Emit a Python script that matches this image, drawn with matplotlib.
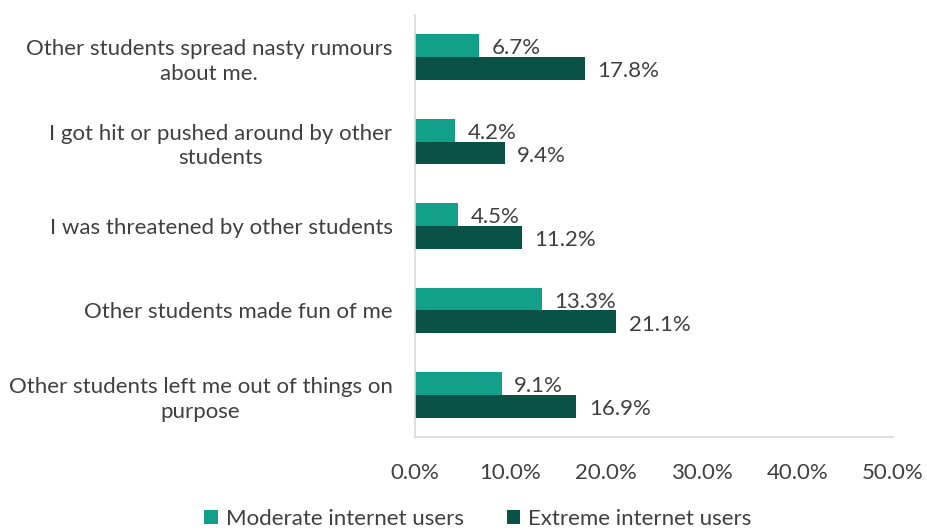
import matplotlib
matplotlib.use("Agg")
import matplotlib.pyplot as plt
import numpy as np

plt.rcParams['font.family'] = ['Lato', 'DejaVu Sans']

categories = [
    "Other students spread nasty rumours\nabout me.",
    "I got hit or pushed around by other\nstudents",
    "I was threatened by other students",
    "Other students made fun of me",
    "Other students left me out of things on\npurpose",
]
moderate = [6.7, 4.2, 4.5, 13.3, 9.1]
extreme = [17.8, 9.4, 11.2, 21.1, 16.9]
series_names = ["Moderate internet users", "Extreme internet users"]
xticks = [0, 10, 20, 30, 40, 50]
xtick_labels = ["0.0%", "10.0%", "20.0%", "30.0%", "40.0%", "50.0%"]

c_mod = "#13A08A"
c_ext = "#0A5246"
txt = "#404040"
fs = 16

fig = plt.figure(figsize=(9.28, 5.31), dpi=100)
ax = fig.add_axes([0.447, 0.177, 0.515, 0.795])

y = np.arange(len(categories))
h = 0.27
b1 = ax.barh(y - h / 2, moderate, height=h, color=c_mod, label=series_names[0])
b2 = ax.barh(y + h / 2, extreme, height=h, color=c_ext, label=series_names[1])

for bars, vals in ((b1, moderate), (b2, extreme)):
    for bar, v in zip(bars, vals):
        ax.annotate(f"{v:.1f}%", (bar.get_width(), bar.get_y() + bar.get_height() / 2),
                    xytext=(9, -2), textcoords="offset points", va="center", ha="left",
                    fontsize=fs, color=txt)

ax.set_xlim(0, 50)
ax.set_ylim(len(categories) - 0.5, -0.5)
ax.set_xticks(xticks)
ax.set_xticklabels(xtick_labels, fontsize=fs, color=txt)
ax.set_yticks(y)
ax.set_yticklabels(categories, fontsize=fs, color=txt)
for lab in ax.get_yticklabels():
    lab.set_multialignment("center")
    lab.set_linespacing(1.3)
ax.tick_params(axis="x", length=0, pad=19)
ax.tick_params(axis="y", length=0, pad=16)
for s in ("top", "right"):
    ax.spines[s].set_visible(False)
ax.spines["left"].set_color("#D9D9D9")
ax.spines["bottom"].set_color("#D9D9D9")
ax.spines["left"].set_linewidth(1.2)
ax.spines["bottom"].set_linewidth(1.2)

leg = fig.legend(handles=[b1, b2], labels=series_names, loc="center",
                 bbox_to_anchor=(0.515, 0.023), ncol=2, frameon=False,
                 fontsize=fs, handlelength=0.6, handleheight=0.6,
                 handletextpad=0.35, columnspacing=1.95)
for t in leg.get_texts():
    t.set_color(txt)

fig.savefig("out.png", dpi=100)
